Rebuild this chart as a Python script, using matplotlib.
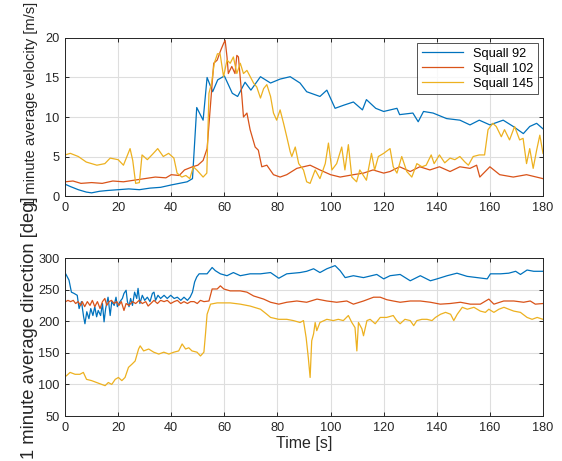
import matplotlib
matplotlib.use("Agg")
import matplotlib.pyplot as plt

# ---------------- data ----------------
# Top panel: 1 minute average velocity [m/s]
t_v92 = [0, 2, 5, 8, 10, 13, 16, 20, 24, 28, 32, 36, 40, 43, 46, 48, 49.6, 52, 53.5, 55.6, 57.5, 60,
         63, 65, 67.8, 70, 73.6, 77.4, 81, 84.8, 88.5, 91, 96, 98.6, 101.7, 105, 108.6, 112, 113.5,
         117, 120, 125, 126, 131, 133, 135, 138.6, 143.7, 148.7, 152.5, 156, 160, 165, 168.8, 172.6,
         175, 177.6, 180]
v92 = [1.5, 1.2, 0.8, 0.5, 0.4, 0.6, 0.7, 0.8, 0.9, 0.8, 1.0, 1.1, 1.4, 1.6, 1.8, 2.2, 11.2, 9.6, 15.0,
       13.2, 14.7, 15.2, 13.0, 12.6, 14.4, 13.4, 15.1, 14.3, 14.8, 15.1, 14.3, 13.2, 12.6, 13.4, 11.1,
       11.5, 11.9, 10.9, 12.2, 11.1, 10.7, 11.1, 10.3, 10.5, 9.4, 10.7, 10.5, 9.8, 9.6, 9.0, 9.6, 9.0,
       9.6, 8.8, 7.9, 8.8, 9.2, 8.5]

t_v102 = [0, 3, 6, 10, 14, 18, 22, 26, 30, 34, 38, 40, 43, 45, 48, 50, 52, 53.5, 56, 57.3, 58.7, 59.7,
          60.3, 61, 61.5, 62.8, 64, 64.7, 65.3, 66.6, 67.2, 68.5, 69.7, 71.6, 72.8, 74.1, 76, 78.5, 81,
          83.5, 87.3, 92.3, 96, 100, 103.6, 108.6, 112.4, 116, 120, 122.4, 126, 130, 133.6, 137.4, 141,
          145, 148.7, 152.5, 155, 156.2, 160, 163.7, 168.8, 173.8, 180]
v102 = [1.8, 1.9, 1.6, 1.7, 1.6, 1.9, 1.8, 2.0, 2.2, 2.4, 2.3, 2.7, 2.6, 3.3, 3.7, 3.9, 4.5, 6.0, 16.8,
        17.2, 18.5, 19.3, 19.7, 17.6, 15.5, 16.4, 15.5, 17.8, 17.6, 12.6, 10.0, 10.5, 8.4, 6.2, 5.8, 3.7,
        3.9, 2.7, 2.4, 2.7, 3.5, 3.9, 3.3, 2.7, 2.4, 2.7, 2.9, 3.3, 2.9, 3.1, 3.7, 3.1, 3.7, 3.3, 3.7,
        3.1, 3.7, 3.5, 3.9, 2.4, 3.7, 2.7, 2.4, 2.7, 2.2]

t_v145 = [0, 2, 5, 8, 12, 15, 17, 20, 22, 24.5, 25.5, 26.6, 28, 29, 31, 33, 34.9, 37, 39, 41, 42.2, 44,
          45.5, 47, 48.3, 49.6, 52, 53.4, 54.2, 55.2, 56.2, 57.4, 58.4, 59.7, 61, 62.2, 63.4, 64.7, 66,
          67.2, 68.5, 71, 72.2, 73.6, 74.8, 76, 77.4, 78.5, 79.7, 81, 82.3, 83.5, 84.8, 85.4, 86.7, 88,
          89.8, 91, 92.3, 94.2, 96, 98, 99.2, 100.5, 102.3, 104.2, 105.4, 106.7, 108, 109.8, 111, 113.5,
          115.4, 116.6, 118, 120, 122.4, 123.6, 125, 126.8, 128.7, 130.6, 132.5, 134.4, 136, 137.9, 139,
          141, 143, 145, 146.8, 148.7, 150.6, 151.9, 153.7, 156, 158, 159.3, 161.1, 162.4, 164.3, 165.5,
          167.4, 169.3, 171.2, 172.5, 173.8, 175, 176.3, 177.6, 178.8, 180]
v145 = [5.2, 5.4, 5.0, 4.3, 3.9, 4.1, 4.8, 4.6, 3.9, 6.0, 4.5, 1.6, 1.7, 5.2, 4.6, 5.3, 6.0, 5.0, 5.4,
        4.8, 2.9, 2.4, 2.6, 2.2, 3.7, 3.3, 2.4, 2.9, 13.0, 14.3, 16.8, 18.0, 18.0, 15.1, 17.2, 16.8,
        17.6, 15.5, 16.8, 15.5, 15.9, 14.3, 13.8, 12.4, 13.6, 14.1, 12.6, 10.5, 9.6, 10.9, 9.2, 7.5,
        5.6, 5.0, 6.2, 4.1, 3.3, 1.8, 1.6, 3.3, 2.2, 4.1, 6.7, 3.3, 4.1, 6.2, 3.3, 6.5, 2.4, 1.8, 3.3,
        2.0, 5.4, 3.3, 5.0, 5.4, 6.0, 3.7, 2.9, 5.0, 3.1, 2.4, 4.1, 3.7, 3.9, 5.2, 4.1, 5.2, 4.2, 4.8,
        4.6, 5.0, 4.3, 3.9, 5.0, 5.2, 5.2, 8.4, 9.2, 8.8, 7.5, 8.4, 7.1, 8.8, 7.1, 7.3, 4.1, 6.0, 3.5,
        5.8, 7.7, 5.4]

# Bottom panel: 1 minute average direction [deg]
t_d92 = [0, 0.25, 1.5, 2.4, 3.4, 4.6, 5.3, 6.2, 7.0, 7.5, 8.2, 9.0, 9.7, 10.5, 11.2, 11.9, 12.5, 13.4,
         14.1, 14.7, 15.3, 16.2, 17.0, 17.6, 18.5, 19.2, 19.7, 20.7, 21.6, 22.2, 23.0, 23.5, 24.1, 24.7,
         25.4, 26.2, 27.0, 27.5, 28.2, 29.1, 30.0, 31.0, 32.0, 32.9, 33.5, 34.1, 35.0, 36.0, 37.3, 38.5,
         39.8, 41.1, 42.3, 43.6, 44.8, 46.1, 47.1, 48.0, 48.8, 49.6, 50.5, 51.7, 53.5, 55.4, 56.6, 58.5,
         61, 63.4, 66, 69.7, 73.6, 77.4, 80.5, 83.5, 88.5, 91, 93.6, 96, 98.6, 101.7, 103.6, 105.5,
         108.6, 112.4, 117.4, 120, 122.4, 126.2, 130, 133.8, 137.6, 140.1, 143.9, 147.6, 151.4, 155.2,
         159, 160.2, 164, 167.1, 169.7, 171.5, 174, 176.5, 180]
d92 = [272, 275, 265, 246, 244, 241, 220, 231, 207, 196, 215, 204, 220, 209, 223, 207, 217, 209, 228,
       199, 220, 238, 209, 231, 225, 238, 223, 231, 236, 244, 249, 231, 223, 236, 225, 246, 236, 252,
       228, 241, 233, 238, 231, 244, 246, 233, 241, 236, 241, 236, 241, 236, 238, 233, 238, 233, 238,
       246, 262, 270, 275, 275, 275, 285, 280, 275, 272, 277, 272, 275, 275, 277, 268, 275, 277, 279,
       283, 277, 283, 288, 280, 269, 272, 269, 274, 267, 272, 274, 264, 272, 264, 267, 272, 276, 271,
       269, 267, 275, 275, 276, 279, 274, 281, 279, 279]

t_d102 = [0, 0.25, 1.1, 2.1, 3.1, 4.0, 4.9, 5.9, 6.5, 7.4, 8.4, 9.4, 10.3, 11.2, 12.2, 13.2, 14.1, 15.0,
          15.7, 16.6, 17.5, 18.5, 19.5, 20.3, 21.2, 22.2, 23.0, 24.1, 25.4, 26.6, 27.9, 29.1, 30.4, 31.3,
          32.3, 33.5, 34.8, 36.0, 37.3, 38.5, 39.8, 41.1, 42.3, 43.6, 44.8, 46.1, 47.3, 48.6, 49.8, 51.0,
          52.3, 54.2, 55.4, 57.3, 58.5, 59.8, 62.2, 66, 68.5, 71, 74.8, 77.4, 80.5, 83.5, 87.3, 91, 94.9,
          98.6, 102.3, 106.1, 108.6, 112.4, 116.2, 118.7, 121.2, 123.6, 126.2, 130, 133.8, 137.6, 141.3,
          145, 148.9, 152.6, 156.4, 159.6, 161.5, 165.2, 169, 172.7, 175.2, 177.1, 180]
d102 = [230, 231, 233, 231, 233, 228, 231, 225, 231, 223, 231, 225, 233, 223, 231, 220, 231, 236, 225,
        231, 233, 228, 231, 225, 231, 217, 228, 225, 231, 228, 233, 228, 231, 224, 228, 233, 228, 233,
        231, 233, 228, 231, 233, 228, 231, 228, 231, 231, 228, 233, 231, 232, 251, 251, 256, 251, 248,
        248, 246, 240, 235, 230, 227, 230, 232, 230, 235, 232, 230, 232, 227, 232, 238, 238, 234, 232,
        230, 232, 232, 230, 227, 228, 230, 227, 227, 235, 227, 232, 232, 230, 232, 227, 228]

t_d145 = [0, 0.6, 1.9, 3.8, 5.6, 6.9, 8.1, 10, 11.9, 13.8, 15.1, 16.3, 17.6, 18.9, 20.1, 21.4, 22.6,
          23.9, 25.2, 26.4, 27.7, 28.3, 29.6, 31.5, 33.4, 35.3, 37.2, 39.1, 41, 42.8, 44.1, 45.4, 46.6,
          47.8, 49.7, 51, 52.3, 52.9, 53.5, 54.8, 57.3, 61, 62.2, 66, 69.7, 73.6, 76, 77.4, 80.5, 83.5,
          86, 88.5, 89.8, 90.8, 91.6, 92.3, 92.9, 93.6, 94.2, 94.8, 96, 98.6, 101, 102.9, 104.8, 106.7,
          108, 109.2, 109.9, 110.5, 111.8, 112.4, 113.7, 114.9, 116.8, 118.7, 121.1, 123.6, 124.9, 126.2,
          128, 130, 131.3, 132.5, 134.4, 136.3, 138.2, 139.5, 141.4, 143.3, 145.2, 146.4, 147.7, 149.6,
          151.5, 154, 156.4, 158.3, 159.6, 161.5, 163.4, 165.3, 167.1, 169, 171.5, 174, 175.9, 177.8, 180]
d145 = [112, 114, 119, 116, 116, 119, 108, 106, 103, 100, 98, 103, 100, 108, 111, 106, 111, 127, 132,
        137, 156, 161, 153, 156, 151, 148, 151, 148, 151, 153, 164, 156, 158, 153, 151, 145, 151, 180,
        211, 227, 229, 229, 229, 227, 224, 219, 211, 206, 203, 203, 201, 198, 201, 174, 143, 111, 169,
        180, 198, 185, 198, 203, 201, 203, 201, 209, 198, 190, 153, 198, 188, 177, 201, 203, 196, 206,
        206, 209, 201, 196, 203, 201, 193, 201, 203, 203, 201, 206, 211, 214, 211, 201, 211, 222, 219,
        222, 216, 214, 219, 214, 219, 222, 219, 216, 214, 206, 203, 206, 203]

series_names = ["Squall 92", "Squall 102", "Squall 145"]
colors = ["#0072BD", "#D95319", "#EDB120"]

# ---------------- figure ----------------
plt.rcParams["font.family"] = ["Liberation Sans", "DejaVu Sans"]
fig = plt.figure(figsize=(5.62, 4.61), dpi=100)
ax1 = fig.add_axes([0.1157, 0.5748, 0.8505, 0.3428])
ax2 = fig.add_axes([0.1157, 0.0976, 0.8505, 0.3427])

vel = [(t_v92, v92), (t_v102, v102), (t_v145, v145)]
dirs = [(t_d92, d92), (t_d102, d102), (t_d145, d145)]
for (t, v), c, n in zip(vel, colors, series_names):
    ax1.plot(t, v, color=c, lw=0.9, label=n)
for (t, d), c in zip(dirs, colors):
    ax2.plot(t, d, color=c, lw=0.9)

def style(ax):
    ax.grid(True, color="#dedede", lw=0.8)
    ax.set_axisbelow(True)
    ax.set_xlim(0, 180)
    ax.set_xticks(range(0, 181, 20))
    ax.tick_params(direction="in", top=True, right=True, labelsize=9.2,
                   colors="#262626", length=3, width=0.7, pad=4)
    for s in ax.spines.values():
        s.set_color("#262626")
        s.set_linewidth(0.7)

style(ax1)
style(ax2)
ax1.set_ylim(0, 20)
ax1.set_yticks(range(0, 21, 5))
ax2.set_ylim(50, 300)
ax2.set_yticks(range(50, 301, 50))

lab_col = "#262626"
fig.text(31 / 562, 1 - 104 / 461, "1 minute average velocity [m/s]", rotation=90,
         ha="center", va="center", fontsize=10.6, color=lab_col)
fig.text(30 / 562, 1 - 328 / 461, "1 minute average direction [deg]", rotation=90,
         ha="center", va="center", fontsize=13.2, color=lab_col)
ax2.set_xlabel("Time [s]", fontsize=11.5, color=lab_col, labelpad=2)

leg = ax1.legend(loc="upper right", fontsize=9.2, frameon=True, fancybox=False,
                 edgecolor="#262626", borderaxespad=0.4, handlelength=3.2, labelspacing=0.25,
                 borderpad=0.35)
leg.get_frame().set_linewidth(0.7)

fig.savefig("out.png", dpi=100)
